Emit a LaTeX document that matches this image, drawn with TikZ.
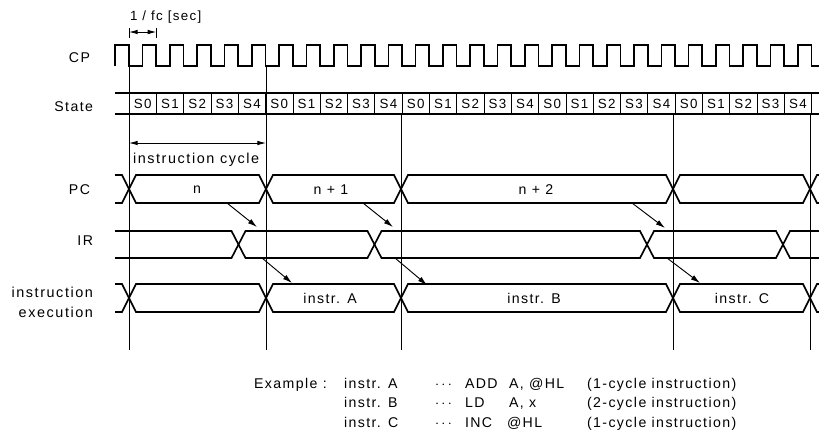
\documentclass[tikz,border=0pt]{standalone}
\usepackage{fontspec}
\setmainfont[LetterSpace=10]{Liberation Sans}
\usetikzlibrary{arrows.meta}
\begin{document}
\begin{tikzpicture}[
x=0.75pt, y=-0.75pt,
every node/.style={font=\fontsize{10.6}{12}\selectfont, inner sep=0pt, outer sep=0pt},
sigL/.style={anchor=east, align=right},
cell/.style={font=\fontsize{10}{11}\selectfont},
txt/.style={anchor=base west},
wide/.style={font=\fontsize{10.8}{12}\selectfont\addfontfeatures{LetterSpace=11}},
tight/.style={font=\fontsize{10}{12}\selectfont},
wave/.style={line width=1.25pt, line join=miter},
guide/.style={line width=0.7pt},
dimarr/.style={{Latex[length=6.5pt,width=3.5pt]}-{Latex[length=6.5pt,width=3.5pt]}, line width=0.7pt},
arr/.style={-{Latex[length=7pt,width=4pt]}, line width=0.7pt}
]
\useasboundingbox (0,0) rectangle (819,437);

% Signal names
\node[sigL] (lblCP) at (90,58) {CP};
\node[sigL] (lblState) at (93,107) {State};
\node[sigL] (lblPC) at (90,190) {PC};
\node[sigL] (lblIR) at (93,241) {IR};
\node[sigL, wide, align=right] (lblExec) at (93,302.5) {instruction\\[3pt]execution};

% Clock
\draw[wave] (115.3,66) -- (115.3,45) -- (129,45) -- (129,66)
  \foreach \k in {0,...,24} { -- ({129+27.3*\k+13.65},66) -- ({129+27.3*\k+13.65},45) -- ({129+27.3*\k+27.3},45) -- ({129+27.3*\k+27.3},66) }
  -- (819,66);

% State row
\draw[wave] (115,93) -- (819,93);
\draw[wave] (115,114) -- (819,114);
\foreach \k in {0,...,25} \draw[line width=0.4pt] ({129+27.3*\k},93) -- ({129+27.3*\k},114);
\foreach \c in {0,...,4} \foreach \s in {0,...,4}
  \node[cell] (st\c\s) at ({129+27.3*(5*\c+\s+0.5)},104) {S\s};

% Cycle boundaries
\foreach \x/\t in {129/66,266/66,401/114,673/114,810/114} \draw[guide] (\x,\t) -- (\x,350);

% 1/fc and cycle length
\node[txt, tight] (lblFc) at (130,20) {1 / fc [sec]};
\coordinate (fcA) at (129,32); \coordinate (fcB) at (156.3,32);
\draw[guide] (129,28) -- (129,38); \draw[guide] (156.3,28) -- (156.3,38);
\draw[dimarr] (fcA) -- (fcB);
\coordinate (icA) at (129,143); \coordinate (icB) at (266,143);
\draw[dimarr] (icA) -- (icB);
\node[txt, wide] (lblCycle) at (133,163) {instruction cycle};

% PC and execution buses
\foreach \top/\bot in {175/203,284/312} {
  \draw[wave] (115,\top) -- (122,\top) -- (136,\bot) -- (259,\bot) -- (273,\top) -- (394,\top) -- (408,\bot) -- (666,\bot) -- (680,\top) -- (803,\top) -- (817,\bot) -- (819,\bot);
  \draw[wave] (115,\bot) -- (122,\bot) -- (136,\top) -- (259,\top) -- (273,\bot) -- (394,\bot) -- (408,\top) -- (666,\top) -- (680,\bot) -- (803,\bot) -- (817,\top) -- (819,\top);
}
% IR bus
\draw[wave] (115,231) -- (231.5,231) -- (245.5,258) -- (367.5,258) -- (381.5,231) -- (640,231) -- (654,258) -- (776,258) -- (790,231) -- (819,231);
\draw[wave] (115,258) -- (231.5,258) -- (245.5,231) -- (367.5,231) -- (381.5,258) -- (640,258) -- (654,231) -- (776,231) -- (790,258) -- (819,258);

% Bus values
\node (valN) at (197,190) {n};
\node (valN1) at (331,190) {n + 1};
\node (valN2) at (536,190) {n + 2};
\node (insA) at (330,298) {instr. A};
\node (insB) at (534,298) {instr. B};
\node (insC) at (742,298) {instr. C};

% Fetch and decode arrows
\foreach \n/\ax/\ay/\bx/\by in {p1/227/203/257/227,p2/363/203/393/227,p3/632/203/665/228,i1/262/258/292/283,i2/395/258/427/285,i3/667/258/700/283} {
  \coordinate (\n a) at (\ax,\ay); \coordinate (\n b) at (\bx,\by);
  \draw[arr] (\n a) -- (\n b);
}

% Example listing
\node[txt] (exHead) at (254,388) {Example :};
\foreach \r/\y/\nm/\op/\ar/\ax/\cy in {1/388/A/ADD/{A, @HL}/509/1,2/407/B/LD/{A, x}/509/2,3/427/C/INC/{@HL}/507/1} {
  \node[txt] (exI\r) at (344,\y) {instr. \nm};
  \node[txt] (exD\r) at (435,\y) {$\cdots$};
  \node[txt] (exO\r) at (465,\y) {\op};
  \node[txt] (exA\r) at (\ax,\y) {\ar};
  \node[txt] (exC\r) at (587,\y) {(\cy-cycle instruction)};
}
\end{tikzpicture}
\end{document}
